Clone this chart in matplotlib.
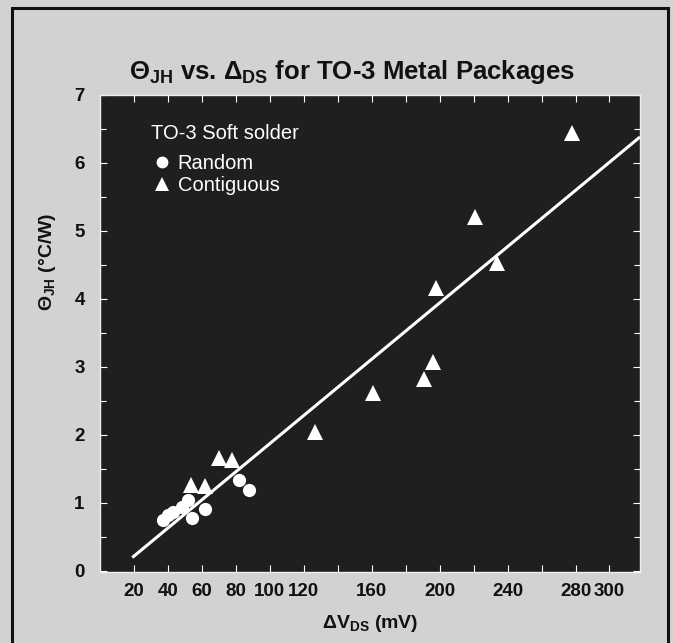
import numpy as np
import matplotlib.pyplot as plt
from matplotlib.lines import Line2D
from matplotlib.patches import Rectangle

plt.rcParams["font.family"] = ["Liberation Sans", "DejaVu Sans"]
plt.rcParams["mathtext.fontset"] = "custom"
plt.rcParams["mathtext.rm"] = "Liberation Sans"
plt.rcParams["mathtext.bf"] = "Liberation Sans:bold"

# ---------------------------------------------------------------------------
# Data
# ---------------------------------------------------------------------------

random_dv = [37, 40, 43, 48, 52, 54, 62, 82, 88]
random_theta = [0.75, 0.82, 0.87, 0.94, 1.04, 0.78, 0.90, 1.34, 1.19]

contig_dv = [53.5, 62, 70, 78, 126.5, 160.6, 190.6, 196, 198, 220.6, 234, 278]
contig_theta = [1.26, 1.24, 1.66, 1.63, 2.04, 2.62, 2.82, 3.07, 4.16, 5.21, 4.53, 6.44]

# least-squares line as printed on the chart
fit_slope = 0.0207
fit_intercept = -0.20
fit_range = [19, 318]

xticks = list(range(20, 301, 20))
xtick_labels = ["20", "40", "60", "80", "100", "120", "", "160", "", "200",
                "", "240", "", "280", "300"]

BG = "#d2d2d2"
PANEL = "#1f1f1f"

fig = plt.figure(figsize=(6.74, 6.43), dpi=100, facecolor=BG)
ax = fig.add_axes([0.1484, 0.1104, 0.8012, 0.7419], facecolor=PANEL)

# outer frame of the printed figure (open at the bottom crop)
fig.patches.append(Rectangle((12 / 674, -0.05), (668 - 12) / 674, 1.05 - 8 / 643,
                             transform=fig.transFigure, fill=False,
                             edgecolor="#111111", linewidth=2.2))

fx = np.array(fit_range, dtype=float)
ax.plot(fx, fit_intercept + fit_slope * fx, color="white", linewidth=2.2,
        solid_capstyle="butt", zorder=2)

ax.plot(random_dv, random_theta, linestyle="none", marker="o", markersize=9.5,
        color="white", markeredgewidth=0, zorder=3)
ax.plot(contig_dv, contig_theta, linestyle="none", marker="^", markersize=11,
        color="white", markeredgewidth=0, zorder=3)

ax.set_xlim(0, 318)
ax.set_ylim(-0.02, 7)

ax.set_xticks(xticks)
ax.set_xticklabels(xtick_labels)
ax.set_yticks(range(0, 8))
ax.set_yticks(np.arange(0.5, 7, 1.0), minor=True)

ax.tick_params(axis="both", which="both", direction="in", color="white",
               top=True, right=True, width=0.8)
ax.tick_params(axis="x", which="major", length=5, labelsize=13.5, pad=8)
ax.tick_params(axis="y", which="major", length=5, labelsize=13.5, pad=11)
ax.tick_params(axis="y", which="minor", length=4)
for lab in ax.get_xticklabels() + ax.get_yticklabels():
    lab.set_fontweight("bold")
    lab.set_color("#111111")

for sp in ax.spines.values():
    sp.set_color("#f0f0f0")
    sp.set_linewidth(1.0)

ax.set_xlabel(r"$\mathbf{\Delta V_{DS}}$ (mV)", fontsize=14, fontweight="bold",
              color="#111111", labelpad=9)
ax.set_ylabel(r"$\mathbf{\Theta_{JH}}$ (°C/W)", fontsize=14, fontweight="bold",
              color="#111111")
ax.yaxis.set_label_coords(-0.078, 0.65)

fig.text(0.522, 0.888, r"$\mathbf{\Theta_{JH}}$ vs. $\mathbf{\Delta_{DS}}$ for TO-3 Metal Packages",
         ha="center", va="center", fontsize=18.5, fontweight="bold", color="#111111")

handles = [
    Line2D([], [], linestyle="none", marker="o", markersize=8.5, color="white",
           markeredgewidth=0),
    Line2D([], [], linestyle="none", marker="^", markersize=10.5, color="white",
           markeredgewidth=0),
]
leg = ax.legend(handles, ["Random", "Contiguous"], title="TO-3 Soft solder",
                loc="upper left", bbox_to_anchor=(0.06, 0.977), frameon=False,
                labelcolor="white", fontsize=14.5, title_fontsize=14.5,
                handletextpad=0.25, handlelength=1.1, labelspacing=0.15,
                alignment="left")
leg.get_title().set_color("white")
leg._legend_box.sep = 8

fig.savefig("out.png", dpi=100, facecolor=BG)
